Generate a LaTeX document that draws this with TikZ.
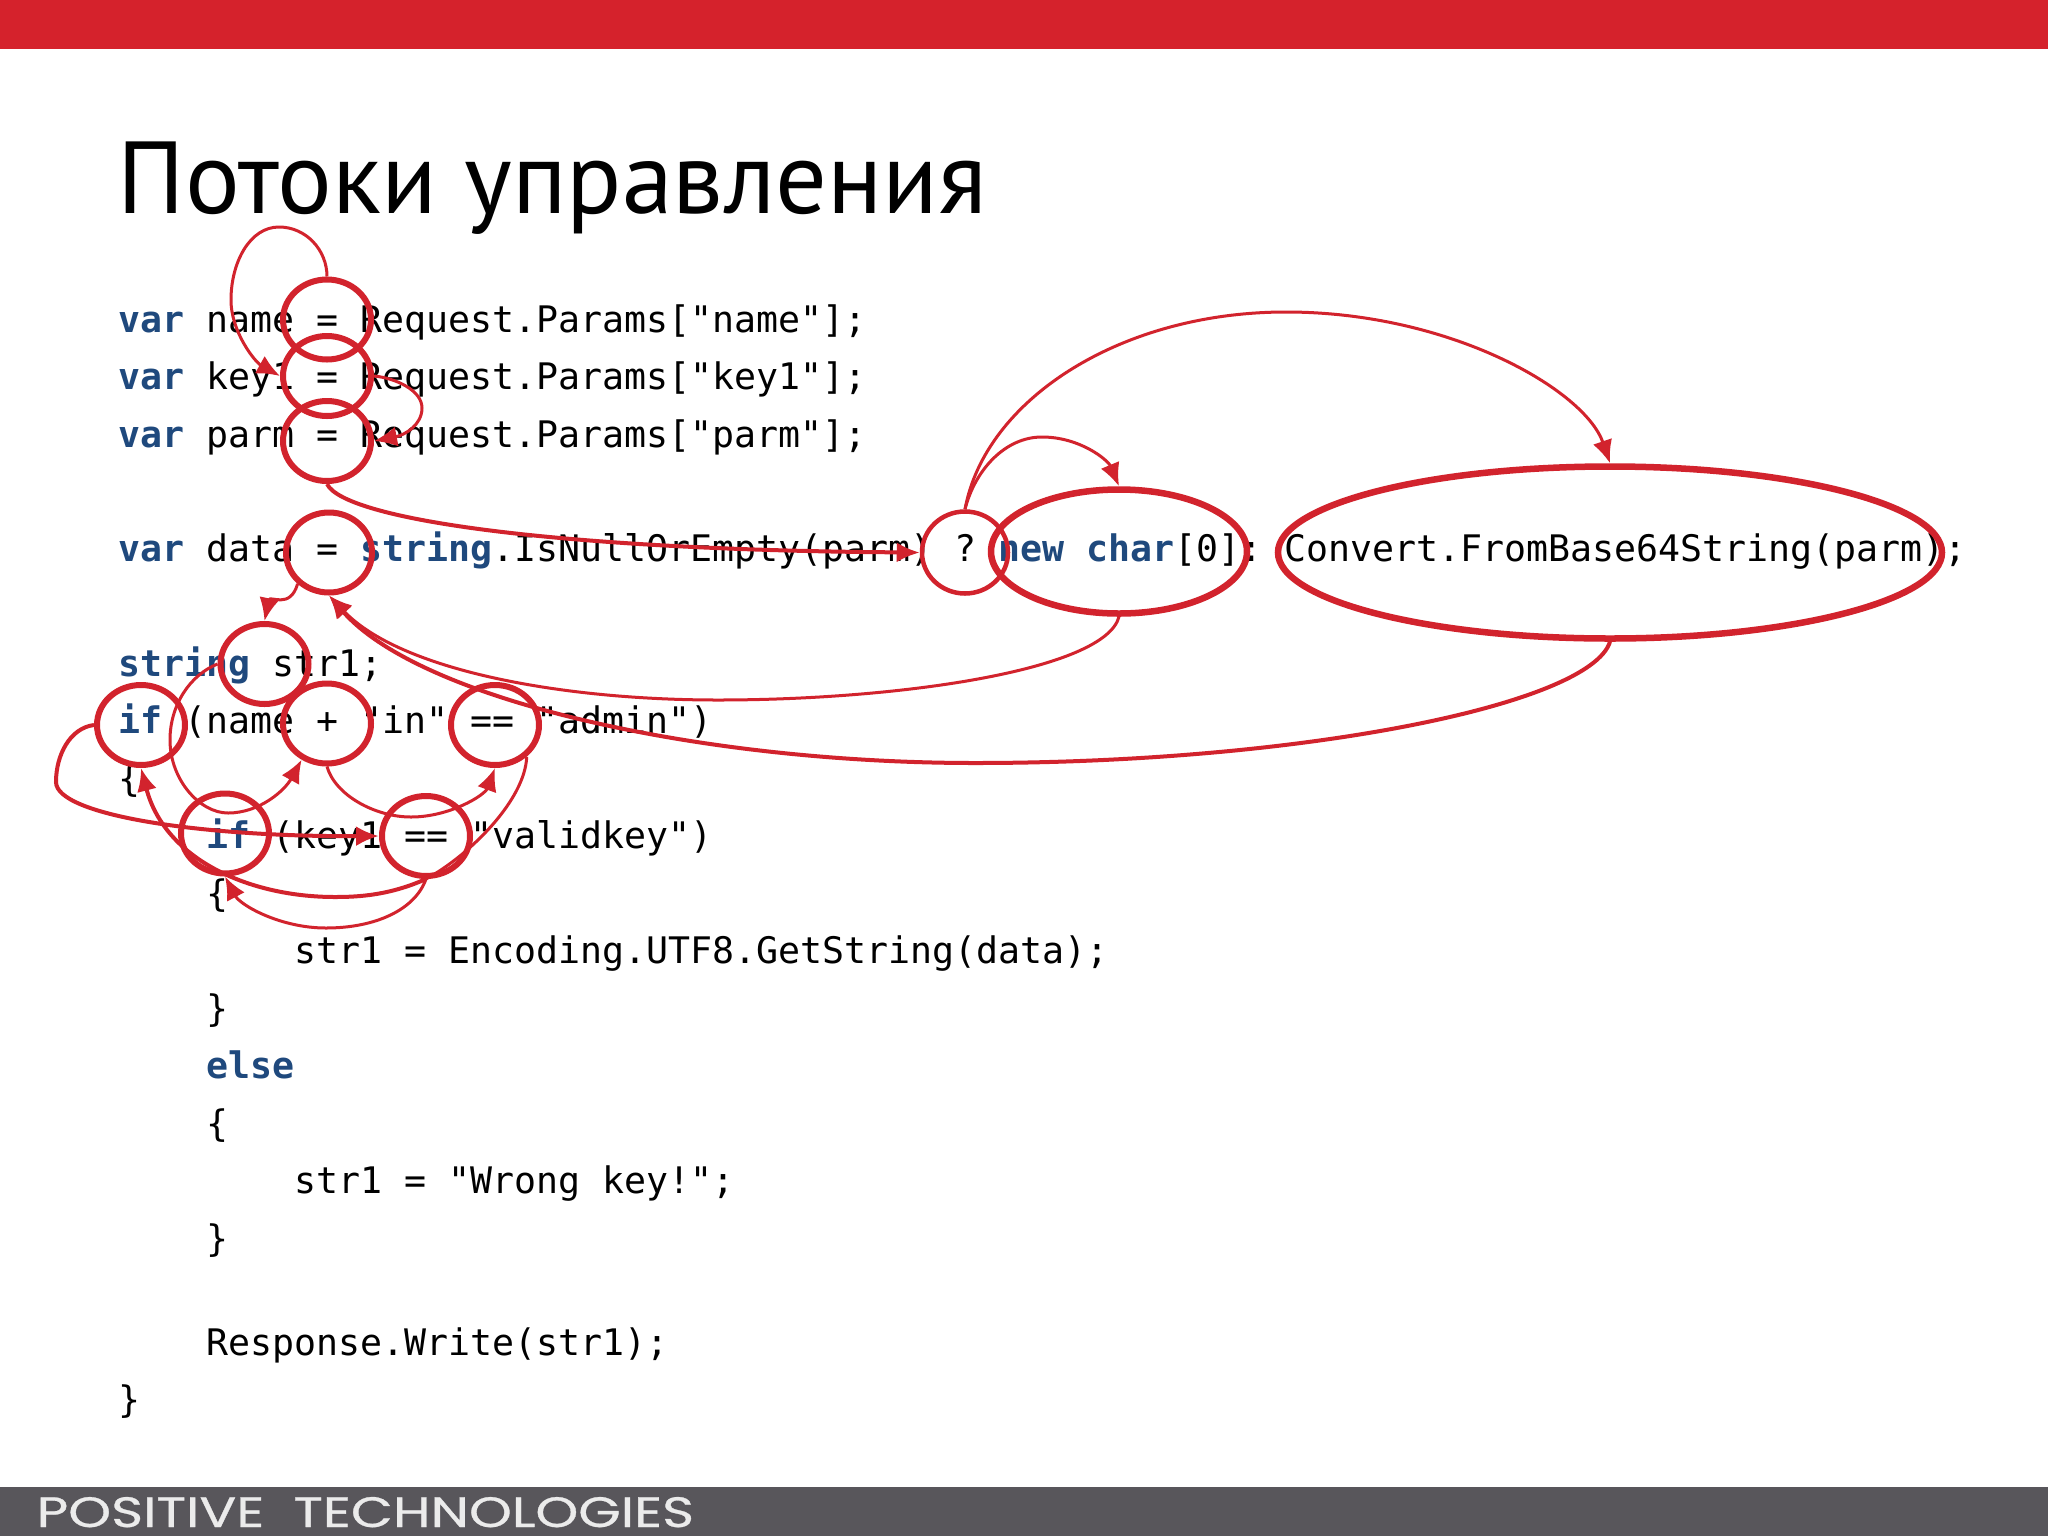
\documentclass[tikz,border=0pt]{standalone}
\usepackage{graphicx}
\usepackage{fontspec}
\setmainfont{Liberation Sans}
\newfontfamily\codef{DejaVu Sans Mono}
\newfontfamily\titlef{PT Sans}
\newfontfamily\logof[FakeBold=0.6]{Poppins}
\usetikzlibrary{shapes.geometric,arrows.meta}
\definecolor{redc}{HTML}{D2232D}
\definecolor{barred}{HTML}{D5222C}
\definecolor{footc}{HTML}{58565B}
\definecolor{codeblue}{HTML}{1F497D}
\newcommand\kw[1]{{\bfseries\color{codeblue}#1}}
\frenchspacing
\tikzset{
  codeline/.style={anchor=base west,inner sep=0pt,outer sep=0pt,font=\codef\frenchspacing\fontsize{10.397pt}{12pt}\selectfont,text=black},
  oval/.style 2 args={ellipse,draw=redc,line width=0.06cm,minimum width=2*#1*0.01cm,minimum height=2*#2*0.01cm,inner sep=0pt},
  flow/.style={draw=redc,line width=0.03cm,-{Latex[length=0.23cm,width=0.2cm]}},
  flowb/.style={flow,line width=0.04cm},
  plain/.style={draw=redc,line width=0.03cm}
}
\begin{document}
\begin{tikzpicture}[x=0.01cm,y=-0.01cm]
\useasboundingbox (0,0) rectangle (2048,1536);
\fill[white] (0,0) rectangle (2048,1536);
\fill[barred] (0,0) rectangle (2048,49);
\fill[footc] (0,1487) rectangle (2048,1536);
\node[anchor=base west,inner sep=0pt,font=\titlef\fontsize{29.1pt}{32pt}\selectfont] (title) at (117,213) {Потоки управления};
\node[anchor=base west,inner sep=0pt,text=white!92!black] (logo) at (36,1527) {\resizebox{6.57cm}{0.30cm}{\logof POSITIVE\ \ TECHNOLOGIES}};
% code
\node[codeline] (l1) at (118,332) {\kw{var} name = Request.Params["name"];};
\node[codeline] (l2) at (118,389.5) {\kw{var} key1 = Request.Params["key1"];};
\node[codeline] (l3) at (118,447) {\kw{var} parm = Request.Params["parm"];};
\node[codeline] (l4) at (118,561.5) {\kw{var} data = \kw{string}.IsNullOrEmpty(parm) ? \kw{new} \kw{char}[0]: Convert.FromBase64String(parm);};
\node[codeline] (l5) at (118,676) {\kw{string} str1;};
\node[codeline] (l6) at (118,733.5) {\kw{if} (name + "in" == "admin")};
\node[codeline] (l7) at (118,791) {\{};
\node[codeline] (l8) at (206,848.5) {\kw{if} (key1 == "validkey")};
\node[codeline] (l9) at (206,906) {\{};
\node[codeline] (l10) at (294,963.5) {str1 = Encoding.UTF8.GetString(data);};
\node[codeline] (l11) at (206,1021) {\}};
\node[codeline] (l12) at (206,1078.5) {\kw{else}};
\node[codeline] (l13) at (206,1136) {\{};
\node[codeline] (l14) at (294,1193.5) {str1 = "Wrong key!";};
\node[codeline] (l15) at (206,1251) {\}};
\node[codeline] (l16) at (206,1355) {Response.Write(str1);};
\node[codeline] (l17) at (118,1412.5) {\}};
% ellipses
\node[oval={44}{40}] (e1) at (327,319.5) {};
\node[oval={44}{40}] (e2) at (327,376) {};
\node[oval={44}{40}] (e3) at (327,441) {};
\node[oval={43}{40}] (e4) at (329,552.5) {};
\node[oval={44}{40}] (e5) at (264.5,664) {};
\node[oval={44}{40}] (e6) at (141,725) {};
\node[oval={44}{40}] (e7) at (327,723.5) {};
\node[oval={44}{40}] (e8) at (495,725) {};
\node[oval={44}{40}] (e9) at (225,833.5) {};
\node[oval={44}{40}] (e10) at (426,836) {};
\node[oval={43}{41},line width=0.045cm] (e11) at (965,552.5) {};
\node[oval={128}{62},line width=0.065cm] (e12) at (1119,551.5) {};
\node[oval={332}{86},line width=0.065cm] (e13) at (1610,552.5) {};
% connectors
\draw[flow] (e1.north) .. controls (327,250) and (306,227) .. (279,227) .. controls (250,227) and (231,262) .. (231,300) .. controls (231,332) and (255,362) .. (e2.west);
\draw[flow] (e2.east) .. controls (395,378) and (422,390) .. (422,408) .. controls (422,425) and (405,435) .. (e3.east);
\draw[flowb] (e3.south) .. controls (345,520) and (560,550) .. (e11.west);
\draw[flow] (e11.north) .. controls (975,470) and (1005,437) .. (1042,437) .. controls (1080,437) and (1108,460) .. (e12.north);
\draw[flow] (e11.north) .. controls (985,400) and (1120,312) .. (1286,312) .. controls (1450,312) and (1585,390) .. (e13.north);
\draw[flow] (e12.south) .. controls (1105,670) and (900,700) .. (718,700) .. controls (560,700) and (400,670) .. (e4.south);
\draw[flowb] (e13.south) .. controls (1590,705) and (1300,763) .. (975,763) .. controls (700,763) and (420,700) .. (e4.south);
\draw[flow] (e4.225) .. controls (290,610) and (270,595) .. (e5.north);
\draw[flow] (e5.west) .. controls (190,675) and (170,705) .. (170,740) .. controls (170,780) and (200,813) .. (228,813) .. controls (260,813) and (285,790) .. (e7.235);
\draw[flowb] (e6.west) .. controls (70,728) and (56,755) .. (56,782) .. controls (56,815) and (200,837) .. (e10.west);
\draw[flowb] (e10.south) .. controls (390,895) and (360,897) .. (335,897) .. controls (250,897) and (165,860) .. (e6.south);
\draw[flow] (e7.south) .. controls (335,795) and (375,817) .. (411,817) .. controls (450,817) and (485,795) .. (e8.south);
\draw[plain] (e8.-45) .. controls (525,800) and (470,855) .. (e10.south);
\draw[flow] (e10.south) .. controls (415,910) and (375,928) .. (326,928) .. controls (280,928) and (240,905) .. (e9.south);
\end{tikzpicture}
\end{document}
